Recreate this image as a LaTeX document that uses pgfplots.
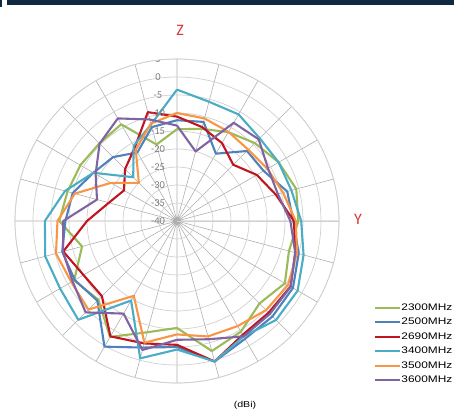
\documentclass[border=0pt]{standalone}
\usepackage{pgfplots}
\pgfplotsset{compat=1.18}
\usepackage{pgfplotstable}
\usepgfplotslibrary{polar}
\usepackage{fontspec}
\setmainfont{Carlito}
\newfontfamily\arial[FakeStretch=1.25]{Liberation Sans}

\definecolor{cA}{RGB}{155,187,89}
\definecolor{cB}{RGB}{79,129,189}
\definecolor{cC}{RGB}{192,20,30}
\definecolor{cD}{RGB}{75,172,198}
\definecolor{cE}{RGB}{247,150,70}
\definecolor{cF}{RGB}{128,100,162}
\definecolor{navy}{RGB}{16,40,64}
\definecolor{spoke}{RGB}{175,175,175}
\definecolor{ring}{RGB}{208,208,208}
\definecolor{lbl}{RGB}{125,125,125}
\definecolor{axred}{RGB}{222,52,52}

% gain in dBi, angle clockwise from Z
\pgfplotstableread{
a   g      b      r      c      o      p
0   -14.5  -12    -11    -3.5   -10    -13.5
15  -13.5  -11.5  -13    -5.7   -10.5  -20
30  -11.5  -18.4  -15    -5.8   -11.4  -8.5
45  -9.4   -12.5  -17.9  -7.5   -12    -7.9
60  -7.4   -12.2  -14.4  -7.4   -11    -10.8
75  -5.7   -8.3   -11.6  -7.1   -9.5   -11
90  -6.3   -7.7   -7.5   -5.5   -7     -8.5
105 -7.8   -5     -6     -3.6   -5.5   -6
120 -5.4   -2.8   -3.6   -1.3   -4.4   -3.5
135 -7.6   -2.5   -4     -1.1   -5     -3.5
150 -4.5   -2.2   -3.5   -3     -6.3   -3
165 -2.6   0.4    0.4    0.4    -6.8   -6
180 -10.3  -5     -5.6   -4.3   -8.5   -7
195 -8     -3.6   -4.8   -0.5   -5     -2.9
210 -2.8   0.3    -3     -14.5  -16    -10.3
225 -9.1   -8.7   -10.5  -1.2   -5.2   -4.1
240 -7     -7.2   -10    -2.5   -6.1   -6.5
255 -12.7  -7     -7.3   -2.1   -5.2   -7.2
270 -7.3   -9     -15    -3.3   -6.8   -8.4
285 -8.5   -10    -20.4  -7.8   -10.6  -17
300 -9     -13.2  -23    -13.2  -18.8  -13.9
315 -9.5   -14.9  -19.6  -22.8  -25    -9.6
330 -9     -18    -16.5  -15.9  -17.1  -7.1
345 -18    -13    -8.7   -12.2  -12    -10.8
360 -14.5  -12    -11    -3.5   -10    -13.5
}\gain

\begin{document}
\begin{tikzpicture}[x=1pt,y=1pt]
\useasboundingbox (0,0) rectangle (454,416);
\fill[navy] (7,411) rectangle (454,416);
\fill[navy] (0,409) rectangle (1.5,416);

\begin{polaraxis}[
    at={(177pt,195pt)}, anchor=center,
    scale only axis, width=324pt, height=324pt,
    xmin=0, xmax=360, ymin=0, ymax=45,
    xtick={0,15,...,345}, ytick={0,5,...,45},
    xticklabels={}, yticklabels={},
    major tick length=0pt,
    grid=major,
    x grid style={spoke, line width=0.6pt},
    y grid style={ring, line width=0.7pt},
    axis line style={ring, line width=0.7pt},
    every axis plot/.append style={line width=2.1pt, no markers, line join=round},
    legend image code/.code={\draw[#1, line width=2pt] (0pt,0pt) -- (25pt,0pt);},
    legend cell align=left,
    legend style={at={(1.098,0.254)}, anchor=north west, draw=none, fill=none,
      font=\arial\fontsize{9.5}{9.5}\selectfont, row sep=4.5pt,
      nodes={inner sep=0.5pt, text height=7pt, text depth=2pt}},
  ]
  \addplot[cA] table[x expr={mod(450-\thisrow{a},360)}, y expr=\thisrow{g}+40] {\gain};
  \addlegendentry{2300MHz}
  \addplot[cB] table[x expr={mod(450-\thisrow{a},360)}, y expr=\thisrow{b}+40] {\gain};
  \addlegendentry{2500MHz}
  \addplot[cC] table[x expr={mod(450-\thisrow{a},360)}, y expr=\thisrow{r}+40] {\gain};
  \addlegendentry{2690MHz}
  \addplot[cD] table[x expr={mod(450-\thisrow{a},360)}, y expr=\thisrow{c}+40] {\gain};
  \addlegendentry{3400MHz}
  \addplot[cE] table[x expr={mod(450-\thisrow{a},360)}, y expr=\thisrow{o}+40] {\gain};
  \addlegendentry{3500MHz}
  \addplot[cF] table[x expr={mod(450-\thisrow{a},360)}, y expr=\thisrow{p}+40] {\gain};
  \addlegendentry{3600MHz}
  \pgfplotsinvokeforeach{0,5,...,45}{
    \node[text=lbl, font=\fontsize{10.5}{10.5}\selectfont, inner sep=0pt]
      at (axis cs:90,#1) [xshift=-19pt] {\pgfmathparse{int(#1-40)}\pgfmathresult};
  }
\end{polaraxis}

\node[text=axred, font=\fontsize{16}{16}\selectfont] at (180,386) {Z};
\node[text=axred, font=\fontsize{16}{16}\selectfont] at (358,197) {Y};
\node[font=\arial\fontsize{8.5}{8.5}\selectfont] at (245,11) {(dBi)};
\end{tikzpicture}
\end{document}
